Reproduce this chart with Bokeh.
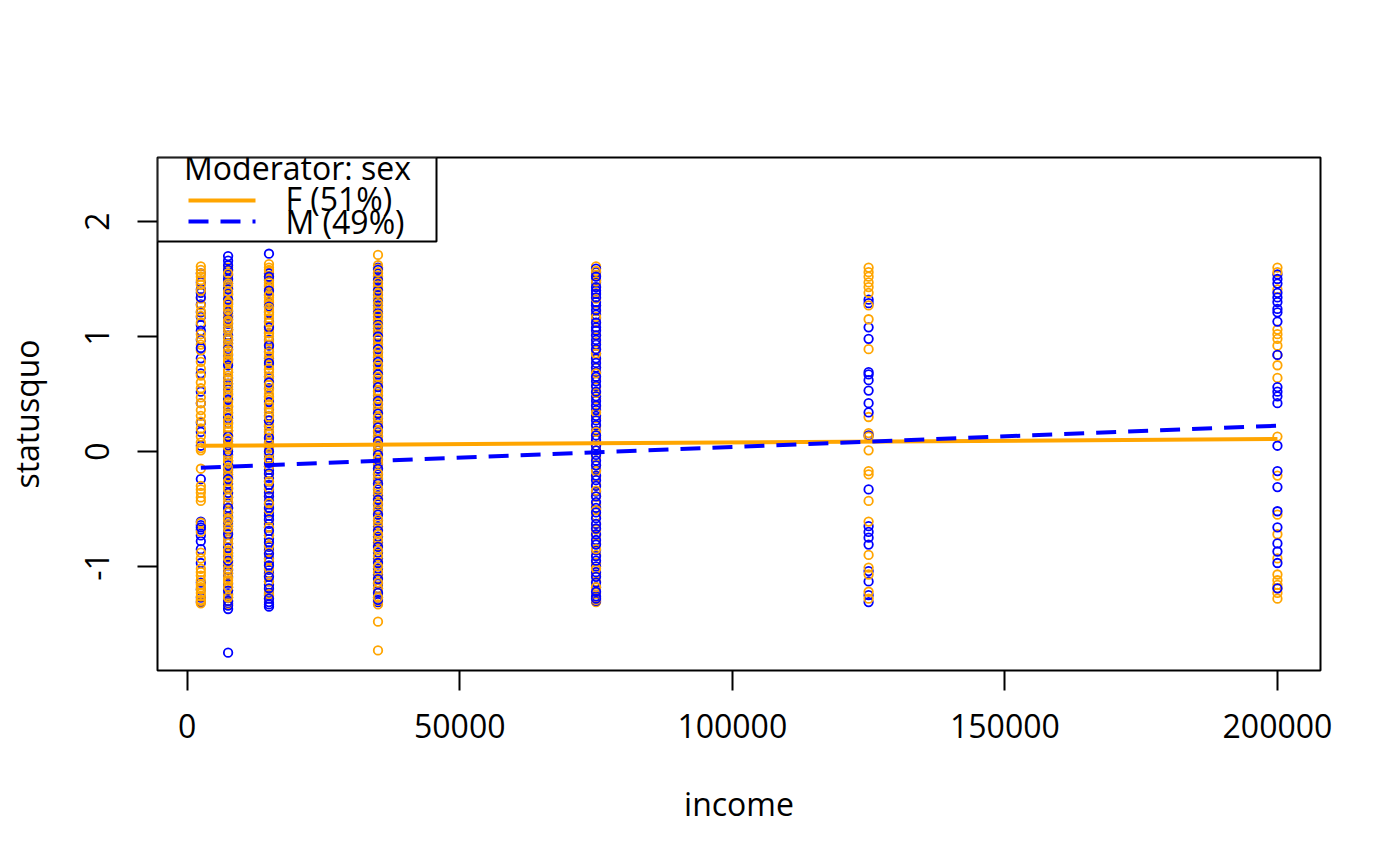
from bokeh.plotting import figure
from bokeh.models import (ColumnDataSource, Range1d, FixedTicker, Label,
                          BoxAnnotation, Arrow)
from bokeh.embed import file_html
from bokeh.resources import INLINE

# ---------------- data ----------------
income_levels = [2500, 7500, 15000, 35000, 75000, 125000, 200000]

sq_f_2500 = [1.61, 1.58, 1.55, 1.52, 1.45, 1.33, 1.27, 1.18, 1.12, 1.02, 0.93, 0.88,
             0.72, 0.60, 0.55, 0.47, 0.42, 0.36, 0.31, 0.20, 0.13, 0.08, 0.03, 0.01,
             -0.15, -0.30, -0.36, -0.40, -0.43, -0.62, -0.70, -0.88, -0.93, -1.02,
             -1.08, -1.12, -1.16, -1.20, -1.23, -1.26, -1.29, -1.32,
             1.49, 1.40, 1.22, 0.98, 0.78, 0.66, 0.26, -0.33, -1.05, -1.18, -1.30]
sq_m_2500 = [1.55, 1.47, 1.41, 1.38, 1.28, 1.21, 1.17, 1.10, 1.05, 0.97, 0.81, 0.68,
             0.52, 0.42, 0.25, 0.17, 0.05, -0.24, -0.61, -0.64, -0.68, -0.73, -0.78,
             -0.85, -0.97, -1.14, -1.20, -1.27, -1.31, 1.34, 0.90, -0.66]

sq_f_7500 = [1.60, 1.57, 1.53, 1.48, 1.44, 1.42, 1.36, 1.32, 1.29, 1.26, 1.20, 1.17,
             1.12, 1.08, 1.05, 0.99, 0.94, 0.91, 0.85, 0.81, 0.77, 0.71, 0.66, 0.62,
             0.56, 0.52, 0.47, 0.40, 0.36, 0.31, 0.24, 0.18, 0.14, 0.07, 0.02, -0.05,
             -0.10, -0.18, -0.22, -0.31, -0.36, -0.44, -0.49, -0.58, -0.63, -0.71,
             -0.76, -0.84, -0.89, -0.97, -1.02, -1.10, -1.14, -1.21, -1.25, -1.30, -1.33,
             1.55, 1.46, 1.39, 1.30, 1.23, 1.14, 1.06, 0.97, 0.88, 0.79, 0.69, 0.59,
             0.49, 0.43, 0.33, 0.27, 0.21, 0.11, 0.04, -0.08, -0.14, -0.26, -0.33,
             -0.40, -0.53, -0.60, -0.67, -0.80, -0.86, -0.93, -1.06, -1.12, -1.18, -1.27]
sq_m_7500 = [1.70, 1.62, 1.58, 1.50, 1.46, 1.37, 1.28, 1.18, 1.11, 1.01, 0.94, 0.84,
             0.80, 0.69, 0.64, 0.54, 0.50, 0.39, 0.34, 0.25, 0.18, 0.09, 0.05, -0.03,
             -0.08, -0.16, -0.20, -0.28, -0.32, -0.40, -0.45, -0.53, -0.57, -0.65,
             -0.68, -0.76, -0.80, -0.88, -0.91, -0.99, -1.03, -1.09, -1.15, -1.18,
             -1.24, -1.27, -1.32, -1.37, -1.75,
             1.66, 1.54, 1.41, 1.32, 1.22, 1.15, 1.06, 0.97, 0.89, 0.75, 0.59, 0.45,
             0.29, 0.13, 0.00, -0.12, -0.24, -0.36, -0.49, -0.61, -0.72, -0.84,
             -0.95, -1.06, -1.21, -1.30, -1.34]

sq_f_15000 = [1.63, 1.60, 1.57, 1.52, 1.50, 1.45, 1.42, 1.39, 1.34, 1.31, 1.28, 1.22,
              1.19, 1.16, 1.09, 1.06, 1.03, 0.96, 0.93, 0.89, 0.83, 0.79, 0.75, 0.69,
              0.65, 0.61, 0.54, 0.50, 0.45, 0.38, 0.34, 0.27, 0.23, 0.15, 0.11, 0.03,
              -0.02, -0.13, -0.20, -0.32, -0.39, -0.51, -0.60, -0.73, -0.82, -0.94,
              -1.02, -1.13, -1.20, -1.28,
              1.58, 1.47, 1.36, 1.25, 1.12, 1.00, 0.86, 0.72, 0.58, 0.47, 0.41, 0.30,
              0.19, 0.07, -0.07, -0.26, -0.45, -0.66, -0.88, -1.08, -1.24]
sq_m_15000 = [1.72, 1.55, 1.49, 1.44, 1.36, 1.30, 1.21, 1.13, 1.03, 0.97, 0.87, 0.81,
              0.71, 0.65, 0.55, 0.48, 0.37, 0.31, 0.22, 0.17, 0.08, 0.04, -0.03, -0.06,
              -0.13, -0.16, -0.23, -0.26, -0.33, -0.36, -0.43, -0.46, -0.53, -0.56,
              -0.63, -0.66, -0.73, -0.76, -0.83, -0.86, -0.93, -0.96, -1.03, -1.06,
              -1.13, -1.16, -1.23, -1.25, -1.31, -1.35,
              1.52, 1.40, 1.26, 1.08, 0.92, 0.77, 0.60, 0.43, 0.27, 0.12, 0.00, -0.10,
              -0.19, -0.29, -0.39, -0.49, -0.59, -0.69, -0.79, -0.89, -0.99, -1.09,
              -1.19, -1.28, -1.33]

sq_f_35000 = [1.71, 1.62, 1.59, 1.53, 1.50, 1.44, 1.41, 1.34, 1.32, 1.25, 1.22, 1.15,
              1.12, 1.05, 1.01, 0.94, 0.91, 0.83, 0.80, 0.72, 0.69, 0.61, 0.57, 0.50,
              0.46, 0.38, 0.34, 0.26, 0.22, 0.14, 0.10, 0.02, -0.02, -0.10, -0.15,
              -0.23, -0.28, -0.36, -0.41, -0.50, -0.54, -0.63, -0.68, -0.77, -0.82,
              -0.91, -0.96, -1.05, -1.10, -1.19, -1.23, -1.30, -1.33, -1.48, -1.73,
              1.56, 1.47, 1.38, 1.29, 1.19, 1.09, 0.98, 0.87, 0.76, 0.65, 0.53, 0.42,
              0.30, 0.18, 0.06, -0.06, -0.19, -0.32, -0.45, -0.59, -0.72, -0.86,
              -1.00, -1.14, -1.27]
sq_m_35000 = [1.60, 1.55, 1.52, 1.46, 1.43, 1.36, 1.33, 1.27, 1.24, 1.17, 1.14, 1.07,
              1.04, 0.97, 0.93, 0.86, 0.82, 0.75, 0.71, 0.64, 0.60, 0.52, 0.49, 0.41,
              0.37, 0.29, 0.25, 0.17, 0.13, 0.05, 0.01, -0.07, -0.11, -0.20, -0.24,
              -0.33, -0.38, -0.46, -0.51, -0.60, -0.65, -0.74, -0.79, -0.88, -0.93,
              -1.02, -1.07, -1.15, -1.19, -1.27, -1.31,
              1.58, 1.49, 1.40, 1.30, 1.20, 1.10, 1.00, 0.89, 0.78, 0.67, 0.56, 0.44,
              0.33, 0.21, 0.09, -0.03, -0.15, -0.28, -0.42, -0.55, -0.69, -0.83,
              -0.97, -1.11, -1.23, -1.29]

sq_f_75000 = [1.61, 1.53, 1.43, 1.38, 1.27, 1.22, 1.12, 1.06, 0.95, 0.89, 0.80, 0.73,
              0.63, 0.56, 0.46, 0.39, 0.29, 0.22, 0.12, 0.05, -0.05, -0.12, -0.22,
              -0.29, -0.39, -0.46, -0.56, -0.63, -0.73, -0.80, -0.90, -0.97, -1.07,
              -1.13, -1.23, -1.27, -1.31,
              1.57, 1.48, 1.33, 1.17, 1.01, 0.85, 0.68, 0.51, 0.34, 0.17, 0.01,
              -0.17, -0.34, -0.51, -0.68, -0.85, -1.02, -1.18, -1.29]
sq_m_75000 = [1.59, 1.56, 1.49, 1.47, 1.40, 1.37, 1.30, 1.27, 1.19, 1.16, 1.08, 1.05,
              0.97, 0.93, 0.85, 0.81, 0.73, 0.69, 0.61, 0.57, 0.48, 0.44, 0.36, 0.31,
              0.23, 0.18, 0.10, 0.05, -0.03, -0.08, -0.16, -0.21, -0.30, -0.35, -0.44,
              -0.49, -0.58, -0.63, -0.72, -0.77, -0.86, -0.91, -1.00, -1.05, -1.14,
              -1.18, -1.26, -1.30,
              1.52, 1.43, 1.34, 1.23, 1.12, 1.01, 0.89, 0.77, 0.65, 0.52, 0.40, 0.27,
              0.14, 0.01, -0.12, -0.25, -0.39, -0.53, -0.67, -0.81, -0.95, -1.09,
              -1.22, -1.28]

sq_f_125000 = [1.60, 1.56, 1.52, 1.47, 1.43, 1.38, 1.27, 1.15, 0.89, 0.30, 0.16,
               0.13, 0.01, -0.17, -0.20, -0.43, -0.61, -0.90, -1.01, -1.07, -1.22,
               -1.28]
sq_m_125000 = [1.32, 1.29, 1.08, 0.98, 0.69, 0.67, 0.62, 0.53, 0.42, 0.34, 0.14,
               -0.33, -0.65, -0.70, -0.75, -0.81, -1.04, -1.13, -1.25, -1.31]

sq_f_200000 = [1.60, 1.56, 1.41, 1.06, 1.02, 0.98, 0.92, 0.84, 0.75, 0.64, 0.13,
               -0.21, -0.55, -0.72, -0.93, -1.07, -1.12, -1.16, -1.19, -1.23, -1.28]
sq_m_200000 = [1.54, 1.50, 1.46, 1.38, 1.34, 1.30, 1.24, 1.21, 1.13, 0.84, 0.56,
               0.52, 0.48, 0.42, 0.05, -0.17, -0.31, -0.52, -0.66, -0.80, -0.87,
               -0.97, -1.19]

sq_f_by_level = [sq_f_2500, sq_f_7500, sq_f_15000, sq_f_35000, sq_f_75000,
                 sq_f_125000, sq_f_200000]
sq_m_by_level = [sq_m_2500, sq_m_7500, sq_m_15000, sq_m_35000, sq_m_75000,
                 sq_m_125000, sq_m_200000]

# fitted lines (value at lowest and highest income)
line_x = [2500, 200000]
line_f = [0.050, 0.108]
line_m = [-0.142, 0.224]

x_ticks = [0, 50000, 100000, 150000, 200000]
x_tick_labels = ["0", "50000", "100000", "150000", "200000"]
y_ticks = [-1, 0, 1, 2]
y_tick_labels = ["-1", "0", "1", "2"]

legend_title = "Moderator: sex"
label_f = "F (51%)"
label_m = "M (49%)"
color_f = "orange"
color_m = "blue"

# ---------------- build point table ----------------
px, py, pc = [], [], []
for lvl, fv, mv in zip(income_levels, sq_f_by_level, sq_m_by_level):
    n = max(len(fv), len(mv))
    for i in range(n):
        if i < len(fv):
            px.append(lvl); py.append(fv[i]); pc.append(color_f)
        if i < len(mv):
            px.append(lvl); py.append(mv[i]); pc.append(color_m)
src = ColumnDataSource(dict(x=px, y=py, c=pc))

FONT = "Open Sans"
FW, FH = 1163, 513

p = figure(frame_width=FW, frame_height=FH,
           min_border_left=157, min_border_right=64,
           min_border_top=157, min_border_bottom=180,
           x_range=Range1d(-5450, 207900), y_range=Range1d(-1.905, 2.557),
           output_backend="svg", toolbar_location=None,
           background_fill_color="white", border_fill_color="white")

p.xgrid.visible = False
p.ygrid.visible = False
p.outline_line_color = "black"
p.outline_line_width = 2
p.outline_line_alpha = 1.0

p.scatter("x", "y", source=src, marker="circle", size=8.5, fill_color=None,
          line_color="c", line_width=1.8)

rf = p.line(line_x, line_f, line_color=color_f, line_width=4)
rm = p.line(line_x, line_m, line_color=color_m, line_width=4, line_dash="20 12")

for ax in (p.xaxis[0], p.yaxis[0]):
    ax.axis_line_color = None
    ax.major_tick_out = 20
    ax.major_tick_in = 0
    ax.minor_tick_out = 0
    ax.minor_tick_in = 0
    ax.major_tick_line_width = 2
    ax.major_tick_line_color = "black"
    ax.major_label_text_font = FONT
    ax.major_label_text_font_size = "32px"
    ax.major_label_text_color = "black"
    ax.axis_label_text_font = FONT
    ax.axis_label_text_font_size = "32px"
    ax.axis_label_text_font_style = "normal"
    ax.axis_label_text_color = "black"

p.xaxis.ticker = FixedTicker(ticks=x_ticks)
p.xaxis.major_label_overrides = {t: l for t, l in zip(x_ticks, x_tick_labels)}
p.xaxis.major_label_standoff = 23
p.xaxis.axis_label = "income"
p.xaxis.axis_label_standoff = 41

p.yaxis.ticker = FixedTicker(ticks=y_ticks)
p.yaxis.major_label_overrides = {t: l for t, l in zip(y_ticks, y_tick_labels)}
p.yaxis.major_label_orientation = "vertical"
p.yaxis.major_label_standoff = 28
p.yaxis.axis_label = "statusquo"
p.yaxis.axis_label_standoff = 35

# ---------------- legend (R style, top-left inside the box) ----------------
# screen units: x from frame left, y from frame bottom
box_w, box_h = 279, 84
p.add_layout(BoxAnnotation(left=0, right=box_w, top=FH, bottom=FH - box_h,
                           left_units="screen", right_units="screen",
                           top_units="screen", bottom_units="screen",
                           fill_color="white", fill_alpha=1.0,
                           line_color="black", line_width=2, line_alpha=1.0))
p.add_layout(Label(x=140, y=FH - 10, x_units="screen", y_units="screen",
                   text=legend_title, text_align="center",
                   text_baseline="alphabetic", text_font=FONT,
                   text_font_size="32px", text_color="black"))
p.add_layout(Arrow(x_start=31, y_start=FH - 43, x_end=98, y_end=FH - 43,
                   start_units="screen", end_units="screen", end=None,
                   line_color=color_f, line_width=4))
p.add_layout(Arrow(x_start=31, y_start=FH - 64, x_end=98, y_end=FH - 64,
                   start_units="screen", end_units="screen", end=None,
                   line_color=color_m, line_width=4, line_dash="20 12"))
p.add_layout(Label(x=128, y=FH - 41, x_units="screen", y_units="screen",
                   text=label_f, text_align="left", text_baseline="alphabetic",
                   text_font=FONT, text_font_size="32px", text_color="black"))
p.add_layout(Label(x=128, y=FH - 64, x_units="screen", y_units="screen",
                   text=label_m, text_align="left", text_baseline="alphabetic",
                   text_font=FONT, text_font_size="32px", text_color="black"))

open("out.html", "w").write(file_html(p, INLINE))
